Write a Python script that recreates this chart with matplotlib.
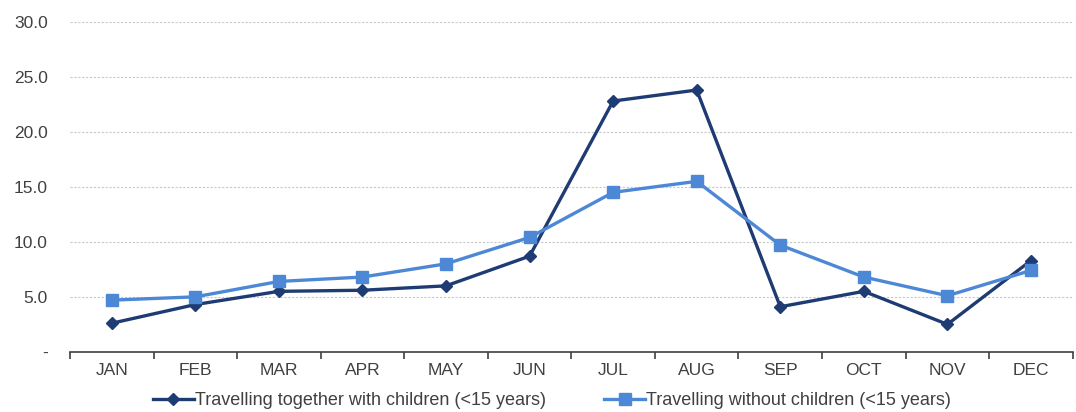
import numpy as np
import matplotlib.pyplot as plt

plt.rcParams['font.family'] = ['Liberation Sans', 'DejaVu Sans']

months = ['JAN', 'FEB', 'MAR', 'APR', 'MAY', 'JUN', 'JUL', 'AUG', 'SEP', 'OCT', 'NOV', 'DEC']
with_children = [2.6, 4.3, 5.5, 5.6, 6.0, 8.7, 22.8, 23.8, 4.1, 5.5, 2.5, 8.3]
without_children = [4.7, 5.0, 6.4, 6.8, 8.0, 10.4, 14.5, 15.5, 9.7, 6.8, 5.1, 7.4]
y_ticks = [0, 5, 10, 15, 20, 25, 30]
y_labels = ['-', '5.0', '10.0', '15.0', '20.0', '25.0', '30.0']

dark = '#1f3b73'
light = '#4d88d6'
txt = '#404040'

fig = plt.figure(figsize=(10.76, 4.12), dpi=100)
ax = fig.add_axes([0.065, 0.146, 0.932, 0.801])

x = np.arange(len(months))
ax.plot(x, with_children, color=dark, lw=2.4, marker='D', ms=6,
        label='Travelling together with children (<15 years)')
ax.plot(x, without_children, color=light, lw=2.4, marker='s', ms=8.5,
        label='Travelling without children (<15 years)')

ax.set_xlim(-0.5, 11.5)
ax.set_ylim(0, 30)
ax.set_yticks(y_ticks)
ax.set_yticklabels(y_labels)
ax.set_xticks(x)
ax.set_xticklabels(months)
ax.set_xticks(np.arange(-0.5, 12, 1), minor=True)
ax.tick_params(axis='x', which='major', length=0, pad=8, labelsize=12.5, labelcolor=txt)
ax.tick_params(axis='x', which='minor', length=5, width=1.2, color='#404040', direction='out')
ax.tick_params(axis='y', length=0, pad=16, labelsize=12.5, labelcolor=txt)

for s in ['top', 'right', 'left']:
    ax.spines[s].set_visible(False)
ax.spines['bottom'].set_color('#404040')
ax.spines['bottom'].set_linewidth(1.2)

for v in y_ticks[1:]:
    ax.axhline(v, color='#c8c8c8', lw=0.8, ls=(0, (2, 1.5)), zorder=0)

fig.legend(loc='center', bbox_to_anchor=(0.513, 0.027), ncol=2, frameon=False,
           fontsize=13, handlelength=2.3, handletextpad=0.05, columnspacing=3.2,
           labelcolor=txt, borderpad=0.1)

fig.savefig('out.png', dpi=100)
